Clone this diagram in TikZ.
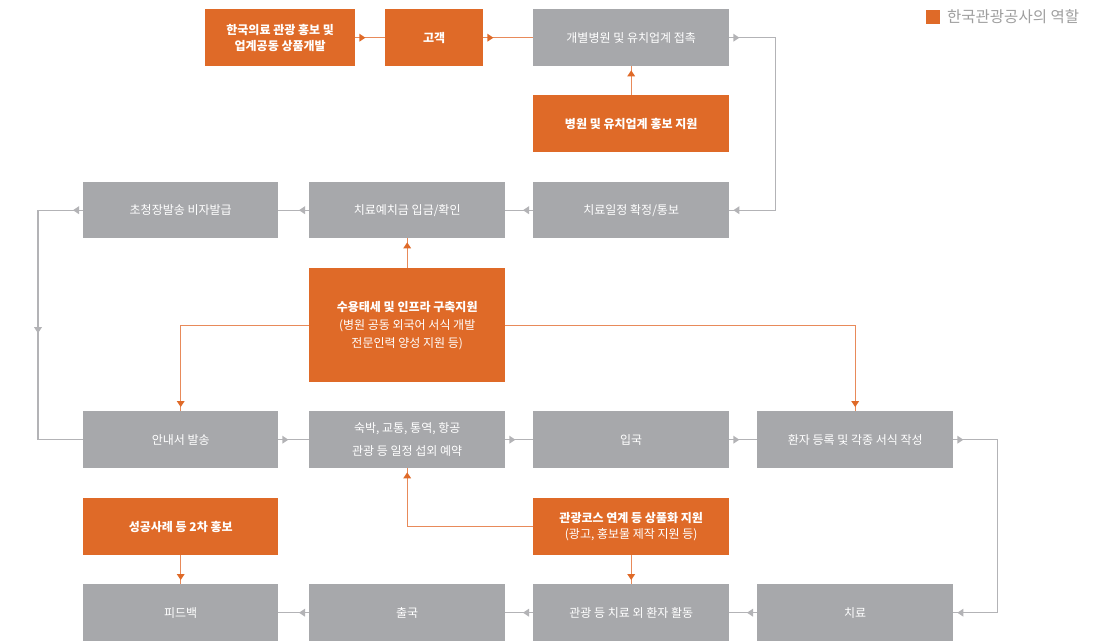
\documentclass[tikz,border=0pt]{standalone}
\usepackage{fontspec}
\setmainfont{Noto Sans CJK KR}
\usetikzlibrary{decorations.markings}
\definecolor{org}{HTML}{DF6A28}
\definecolor{orgl}{HTML}{E88A5A}
\definecolor{gbox}{HTML}{A7A8AB}
\definecolor{gline}{HTML}{B3B3B6}
\definecolor{legtxt}{HTML}{9E9E9E}
\tikzset{
  box/.style={anchor=north west, inner sep=0pt, text=white, align=center, font=\fontsize{12}{18}\selectfont},
  gbx/.style={box, fill=gbox},
  obx/.style={box, fill=org, font=\fontsize{12}{18}\selectfont\bfseries},
  gl/.style={draw=gline, line width=1.2pt},
  ol/.style={draw=orgl, line width=1.2pt},
  srctri/.style={postaction={decorate,decoration={markings,mark=at position 4pt with {\fill[#1] (0,4)--(6,0)--(0,-4)--cycle;}}}},
  endtri/.style={postaction={decorate,decoration={markings,mark=at position -4pt with {\fill[#1] (0,0)--(-6,4)--(-6,-4)--cycle;}}}},
  midtri/.style 2 args={postaction={decorate,decoration={markings,mark=at position #2 with {\fill[#1] (3,0)--(-3,4)--(-3,-4)--cycle;}}}}
}
\begin{document}
\begin{tikzpicture}[x=1pt,y=-1pt]
\useasboundingbox (0,0) rectangle (1117,643);
% legend
\fill[org] (926,10) rectangle (940,24);
\node[anchor=west, inner sep=0pt, text=legtxt, font=\fontsize{15.5}{15.5}\selectfont] (leg) at (947,17) {한국관광공사의 역할};
% row 1
\node[obx, minimum width=150pt, minimum height=57pt] (A) at (205,9) {한국의료 관광 홍보 및\\[-2pt]업계공동 상품개발};
\node[obx, minimum width=98pt, minimum height=57pt] (B) at (385,9) {고객};
\node[gbx, minimum width=196pt, minimum height=57pt] (C) at (533,9) {개별병원 및 유치업계 접촉};
\node[obx, minimum width=196pt, minimum height=57pt] (D) at (533,95) {병원 및 유치업계 홍보 지원};
% row 2
\node[gbx, minimum width=195pt, minimum height=56pt] (E) at (83,182) {초청장발송 비자발급};
\node[gbx, minimum width=196pt, minimum height=56pt] (F) at (309,182) {치료예치금 입금/확인};
\node[gbx, minimum width=196pt, minimum height=56pt] (G) at (533,182) {치료일정 확정/통보};
% H
\node[obx, minimum width=196pt, minimum height=114pt] (H) at (309,268) {수용태세 및 인프라 구축지원\\[0pt]{\mdseries (병원 공동 외국어 서식 개발}\\[0pt]{\mdseries 전문인력 양성 지원 등)}};
% row 3
\node[gbx, minimum width=195pt, minimum height=57pt] (I) at (83,411) {안내서 발송};
\node[gbx, minimum width=196pt, minimum height=57pt] (J) at (309,411) {숙박, 교통, 통역, 항공\\[5pt]관광 등 일정 섭외 예약};
\node[gbx, minimum width=196pt, minimum height=57pt] (K) at (533,411) {입국};
\node[gbx, minimum width=196pt, minimum height=57pt] (L) at (757,411) {환자 등록 및 각종 서식 작성};
% promo row
\node[obx, minimum width=195pt, minimum height=57pt] (M) at (83,498) {성공사례 등 2차 홍보};
\node[obx, minimum width=196pt, minimum height=57pt] (N) at (533,498) {관광코스 연계 등 상품화 지원\\[-2pt]{\mdseries (광고, 홍보물 제작 지원 등)}};
% row 4
\node[gbx, minimum width=195pt, minimum height=57pt] (O) at (83,584) {피드백};
\node[gbx, minimum width=196pt, minimum height=57pt] (P) at (309,584) {출국};
\node[gbx, minimum width=196pt, minimum height=57pt] (Q) at (533,584) {관광 등 치료 외 환자 활동};
\node[gbx, minimum width=196pt, minimum height=57pt] (R) at (757,584) {치료};
% orange connectors
\draw[ol, srctri=org] (A.east) -- (B.west);
\draw[ol, srctri=org] (B.east) -- (C.west);
\draw[ol, endtri=org] (D.north) -- (C.south);
\draw[ol, endtri=org] (H.north) -- (F.south);
\draw[ol, endtri=org] (H.west) -| (I.north);
\draw[ol, endtri=org] (H.east) -| (L.north);
\draw[ol, endtri=org] (N.west) -| (J.south);
\draw[ol, endtri=org] (N.south) -- (Q.north);
\draw[ol, endtri=org] (M.south) -- (O.north);
% gray connectors
\draw[gl, srctri=gline, endtri=gline] (C.east) -- ++(46,0) |- (G.east);
\draw[gl, srctri=gline] (G.west) -- (F.east);
\draw[gl, srctri=gline] (F.west) -- (E.east);
\draw[gl, srctri=gline, midtri={gline}{165pt}] (E.west) -- ++(-45,0) |- (I.west);
\draw[gl, srctri=gline] (I.east) -- (J.west);
\draw[gl, srctri=gline] (J.east) -- (K.west);
\draw[gl, srctri=gline] (K.east) -- (L.west);
\draw[gl, srctri=gline, endtri=gline] (L.east) -- ++(44,0) |- (R.east);
\draw[gl, srctri=gline] (R.west) -- (Q.east);
\draw[gl, srctri=gline] (Q.west) -- (P.east);
\draw[gl, srctri=gline] (P.west) -- (O.east);
\end{tikzpicture}
\end{document}
